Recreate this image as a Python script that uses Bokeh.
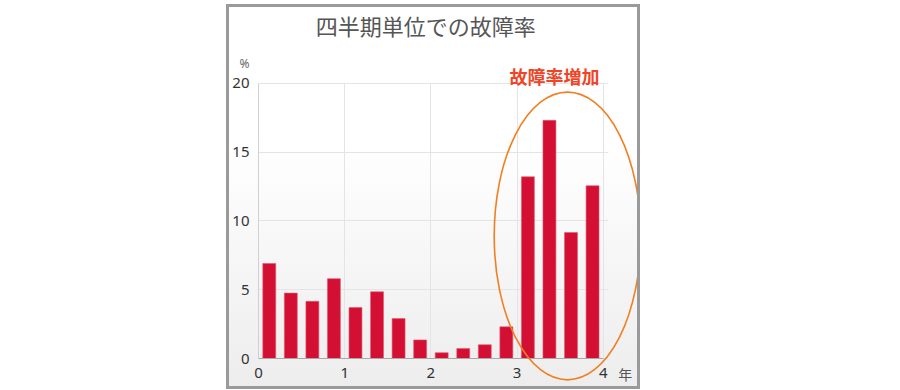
from bokeh.plotting import figure
from bokeh.models import ColumnDataSource, Range1d, FixedTicker, Spacer
from bokeh.core.properties import value
from bokeh.layouts import column, row
from bokeh.embed import file_html
from bokeh.resources import INLINE

# ---- data ----
quarters = [0.125, 0.375, 0.625, 0.875, 1.125, 1.375, 1.625, 1.875,
            2.125, 2.375, 2.625, 2.875, 3.125, 3.375, 3.625, 3.875]
failure_rate = [6.9, 4.75, 4.15, 5.8, 3.7, 4.85, 2.9, 1.35,
                0.42, 0.72, 1.0, 2.3, 13.2, 17.3, 9.15, 12.55]
x_ticks = [0, 1, 2, 3, 4]
y_ticks = [0, 5, 10, 15, 20]
title_text = "四半期単位での故障率"
note_text = "故障率増加"
x_unit = "年"
y_unit = "%"
# highlight ellipse (data units)
ell_x = [3.584]
ell_y = [8.9]
ell_w = [1.70]
ell_h = [20.9]

p = figure(width=408, height=379, output_backend="svg", toolbar_location=None,
           x_range=Range1d(0, 4.06), y_range=Range1d(0, 20.05),
           min_border_left=28, min_border_right=29, min_border_top=75, min_border_bottom=28,
           styles={"outline": "3px solid #9a9a9a",
                   "background": "linear-gradient(to bottom, #ffffff 0%, #ffffff 35%, #ededed 100%)"})
p.background_fill_alpha = 0
p.border_fill_alpha = 0
p.outline_line_color = None

src = ColumnDataSource(dict(x=quarters, top=failure_rate))
p.vbar(x="x", top="top", width=0.15, bottom=0, source=src,
       fill_color="#d31033", line_color="#e2566e", line_width=0.6)

p.ellipse(x=ell_x, y=ell_y, width=ell_w, height=ell_h, fill_color=None,
          line_color="#f07f22", line_width=1.6, level="overlay")

p.xaxis.ticker = FixedTicker(ticks=x_ticks)
p.yaxis.ticker = FixedTicker(ticks=y_ticks)
p.xaxis.bounds = (0, 4)
p.yaxis.bounds = (0, 20)
for ax in (p.xaxis, p.yaxis):
    ax.major_tick_line_color = None
    ax.minor_tick_line_color = None
    ax.major_label_text_font = "Noto Sans"
    ax.major_label_text_font_size = "15px"
    ax.major_label_text_color = "#333333"
p.xaxis.axis_line_color = "#a8a8a8"
p.yaxis.axis_line_color = "#d0d0d0"
p.xaxis.major_label_standoff = 3
p.yaxis.major_label_standoff = 3

p.xgrid.ticker = FixedTicker(ticks=x_ticks)
p.ygrid.ticker = FixedTicker(ticks=y_ticks)
p.grid.grid_line_color = "#e4e4e4"
p.grid.grid_line_width = 1

def add_text(x, y, txt, font, size, color, style="normal"):
    p.text(x=[x], y=[y], text=[txt], text_align="center", text_baseline="middle",
           text_font=value(font), text_font_size=size, text_color=color,
           text_font_style=style, level="overlay")

add_text(1.94, 24.2, title_text, "Noto Sans CJK JP", "22px", "#555555")
add_text(3.434, 20.5, note_text, "Noto Sans CJK JP", "18px", "#ef4426", "bold")
add_text(-0.162, 21.45, y_unit, "Noto Sans", "12px", "#666666")
add_text(4.254, -1.09, x_unit, "Noto Sans CJK JP", "14px", "#555555")

layout = column(Spacer(height=7), row(Spacer(width=229), p))
open("out.html", "w").write(file_html(layout, INLINE))
